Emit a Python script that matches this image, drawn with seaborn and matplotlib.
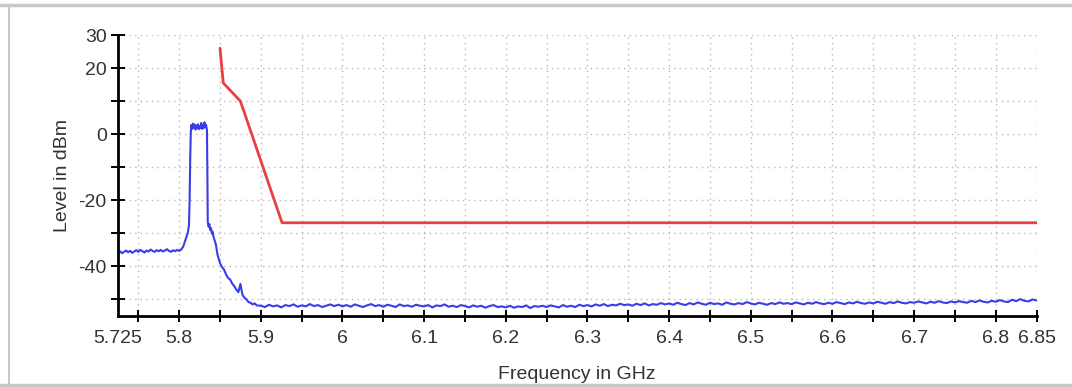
import numpy as np
import pandas as pd
import matplotlib
matplotlib.use("Agg")
import matplotlib.pyplot as plt
from matplotlib.lines import Line2D
import seaborn as sns

# Limit line (mask)
mask_freq = [5.85, 5.854, 5.875, 5.926, 6.85]
mask_level = [26.0, 15.5, 10.0, -26.8, -26.8]

# Measured spectrum, baseline left of the carrier (5.725 .. 5.8025 GHz, 2.5 MHz steps)
base_start, base_stop = 5.725, 5.8025
base_level = [-35.8, -35.4, -36.0, -35.6, -35.2, -35.7, -35.3, -35.9, -35.5, -35.1,
              -35.6, -35.0, -35.4, -35.8, -35.2, -35.5, -34.9, -35.3, -35.6, -35.1,
              -35.4, -35.0, -35.5, -35.2, -34.8, -35.3, -35.6, -35.1, -35.4, -35.0,
              -35.3, -34.9]

# carrier and skirt
peak_freq = [5.805, 5.807, 5.809, 5.8105, 5.812, 5.8128, 5.8135, 5.8142, 5.815, 5.816,
             5.817, 5.818, 5.819, 5.820, 5.821, 5.822, 5.823, 5.824, 5.825, 5.826,
             5.827, 5.828, 5.829, 5.830, 5.831, 5.832, 5.833, 5.834, 5.8345, 5.835,
             5.836, 5.837, 5.838, 5.839, 5.840, 5.841, 5.842, 5.843, 5.844, 5.845,
             5.846, 5.847, 5.848, 5.849, 5.850, 5.8525, 5.855, 5.8575, 5.860, 5.8625,
             5.865, 5.8675, 5.870, 5.8725, 5.875, 5.8775, 5.880, 5.8825, 5.885, 5.8875,
             5.890, 5.8925, 5.895]
peak_level = [-34.0, -32.5, -31.0, -30.0, -27.5, -20.0, -8.0, 0.5, 2.8, 1.6,
              3.2, 2.0, 2.9, 1.4, 2.6, 1.8, 3.0, 1.5, 2.4, 1.9,
              3.4, 1.6, 2.7, 1.8, 3.6, 2.1, 2.8, 1.2, -10.0, -26.5,
              -28.0, -27.2, -29.0, -28.4, -30.1, -29.5, -31.0, -31.8, -32.6, -33.4,
              -35.0, -36.5, -37.4, -38.2, -39.0, -40.2, -41.0, -42.5, -43.5, -44.0,
              -45.2, -46.0, -47.0, -47.8, -45.3, -48.6, -49.5, -50.0, -50.8, -51.0,
              -51.5, -51.2, -51.8]

# noise floor 5.9 .. 6.85 GHz, 5 MHz steps
floor_start, floor_stop = 5.9, 6.85
floor_level = [
    -51.9, -52.3, -51.6, -52.1, -51.8, -52.4, -51.7, -52.0, -51.5, -52.2,
    -51.8, -52.1, -51.4, -52.0, -51.7, -52.3, -51.9, -51.5, -52.0, -51.6,
    -52.1, -51.7, -52.2, -51.5, -51.9, -52.3, -51.8, -51.4, -52.0, -51.7,
    -52.2, -51.6, -51.9, -52.3, -51.5, -52.0, -51.8, -52.2, -51.6, -51.9,
    -52.1, -51.7, -52.4, -51.8, -52.0, -51.5, -52.2, -51.9, -52.3, -51.7,
    -52.0, -52.4, -51.8, -52.2, -51.9, -52.5, -52.0, -51.7, -52.3, -52.1,
    -52.4, -51.9, -52.5, -52.1, -52.3, -51.8, -52.6, -52.0, -52.2, -51.9,
    -52.3, -51.8, -52.1, -52.4, -51.7, -52.2, -51.9, -52.3, -51.6, -52.0,
    -51.7, -52.1, -51.5, -51.9, -51.4, -52.0, -51.6, -51.8, -51.3, -51.7,
    -51.5, -51.9, -51.3, -51.7, -51.2, -51.8, -51.4, -51.6, -51.1, -51.5,
    -51.2, -51.6, -51.0, -51.4, -51.7, -51.1, -51.5, -50.9, -51.3, -51.6,
    -51.0, -51.4, -51.2, -51.6, -50.9, -51.3, -51.5, -51.1, -51.4, -50.8,
    -51.2, -51.5, -51.0, -51.3, -51.6, -51.1, -51.4, -50.9, -51.3, -51.1,
    -51.4, -50.9, -51.2, -51.5, -51.0, -51.3, -50.8, -51.2, -51.4, -51.0,
    -51.3, -50.8, -51.1, -51.4, -50.9, -51.2, -50.7, -51.1, -51.3, -50.9,
    -51.2, -50.7, -51.0, -51.3, -50.8, -51.1, -50.6, -51.0, -51.2, -50.8,
    -51.0, -50.6, -50.9, -51.2, -50.7, -51.0, -50.5, -50.9, -51.1, -50.6,
    -50.9, -50.5, -50.8, -51.0, -50.4, -50.8, -50.3, -50.7, -50.9, -50.4,
    -50.7, -50.2, -50.6, -50.8, -50.1, -50.5, -49.9, -50.4, -50.6, -50.0,
    -50.3]

x_ticks = [5.75, 5.8, 5.85, 5.9, 5.95, 6.0, 6.05, 6.1, 6.15, 6.2, 6.25, 6.3, 6.35,
           6.4, 6.45, 6.5, 6.55, 6.6, 6.65, 6.7, 6.75, 6.8, 6.85]
x_labels = {5.8: "5.8", 5.9: "5.9", 6.0: "6", 6.1: "6.1", 6.2: "6.2", 6.3: "6.3",
            6.4: "6.4", 6.5: "6.5", 6.6: "6.6", 6.7: "6.7", 6.8: "6.8", 6.85: "6.85"}
y_ticks = [-50, -40, -30, -20, -10, 0, 10, 20, 30]
y_labels = {-40: "-40", -20: "-20", 0: "0", 20: "20", 30: "30"}

# sweep frequencies are equally spaced within each segment
spec = pd.DataFrame({
    "freq": np.concatenate([np.linspace(base_start, base_stop, len(base_level)),
                            peak_freq,
                            np.linspace(floor_start, floor_stop, len(floor_level))]),
    "level": base_level + peak_level + floor_level,
})
mask = pd.DataFrame({"freq": mask_freq, "level": mask_level})

sns.set_style("white")
plt.rcParams["font.family"] = ["Liberation Sans", "DejaVu Sans"]

fig = plt.figure(figsize=(10.72, 3.87), dpi=100)
ax = fig.add_axes([0.110, 0.1835, 0.857, 0.726])

sns.lineplot(data=spec, x="freq", y="level", ax=ax, color="#3b3bea", linewidth=1.5,
             estimator=None, sort=False)
sns.lineplot(data=mask, x="freq", y="level", ax=ax, color="#e8403f", linewidth=2.0,
             estimator=None, sort=False)

ax.set_xlim(5.725, 6.85)
ax.set_ylim(-55, 30)

ax.set_xticks(x_ticks)
ax.set_xticklabels([x_labels.get(round(t, 2), "") for t in x_ticks])
# the first (start) label sits at the axis origin
ax.set_xticks([5.725], minor=True)
ax.set_xticklabels(["5.725"], minor=True)
ax.set_yticks(y_ticks)
ax.set_yticklabels([y_labels.get(t, "") for t in y_ticks])

ax.tick_params(axis="x", which="major", bottom=True, direction="inout", length=9,
               width=1.4, colors="black", labelsize=14, labelcolor="#333333", pad=5.5)
ax.tick_params(axis="x", which="minor", bottom=True, length=0, labelsize=14,
               labelcolor="#333333", pad=10)
ax.tick_params(axis="y", left=True, direction="inout", length=10, width=1.4,
               colors="black", labelsize=14, labelcolor="#333333", pad=3)

ax.grid(True, which="major", linestyle=(0, (1, 3)), color="#b8b8b8", linewidth=1.0)
for side in ["top", "right"]:
    ax.spines[side].set_visible(False)
for side in ["left", "bottom"]:
    ax.spines[side].set_color("black")
    ax.spines[side].set_linewidth(2.0)

ax.set_xlabel("Frequency in GHz", fontsize=14, color="#333333", labelpad=14)
ax.set_ylabel("Level in dBm", fontsize=14, color="#333333", labelpad=5)

# light frame around the figure
fig.add_artist(Line2D([0, 1], [1 - 4.5 / 387] * 2, color="#c8c8c8", linewidth=2.5))
fig.add_artist(Line2D([0, 1], [1 - 384.5 / 387] * 2, color="#c8c8c8", linewidth=2.5))
fig.add_artist(Line2D([8.5 / 1072] * 2, [1 - 384.5 / 387, 1 - 4.5 / 387], color="#c8c8c8",
                      linewidth=1.5))

fig.savefig("out.png", dpi=100)
